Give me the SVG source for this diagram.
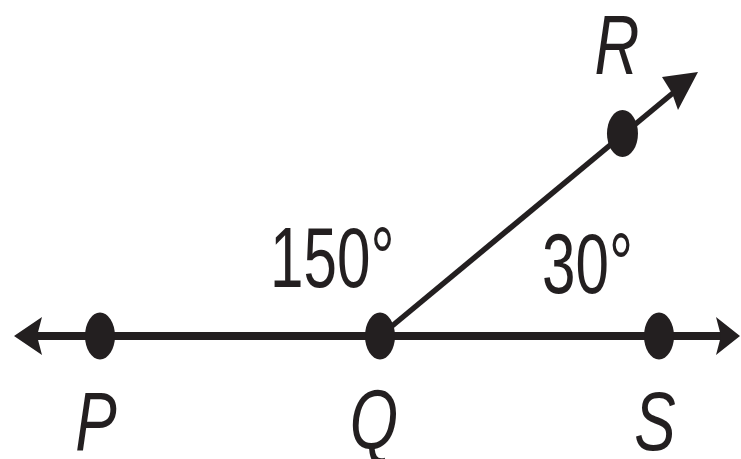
<svg xmlns="http://www.w3.org/2000/svg" width="741" height="459" viewBox="0 0 741 459">
<style>
.dot{fill:#231f20}
.ln{stroke:#231f20;fill:none}
.ah{fill:#231f20}
.lbl{font-family:"Liberation Sans",Arial,sans-serif;font-style:italic;font-size:84px;fill:#231f20;text-anchor:middle}
.deg{font-family:"Liberation Sans",Arial,sans-serif;font-size:86px;fill:#231f20}
</style>
<rect width="741" height="459" fill="#ffffff"/>
<g id="connectors">
  <line class="ln" x1="30" y1="336" x2="725" y2="336" stroke-width="8"/>
  <path class="ah" d="M14,336 L42,317 L37,336 L42,355 Z"/>
  <path class="ah" d="M740,336 L716,317 L721,336 L716,355 Z"/>
  <line class="ln" x1="380" y1="336" x2="685" y2="83" stroke-width="5.5"/>
  <path class="ah" d="M698,72 L662,77 L672,93 L678,110 Z"/>
</g>
<g id="P">
  <ellipse class="dot" cx="100" cy="336" rx="15" ry="23.5"/>
  <text class="lbl" transform="translate(96,450) scale(0.74,1)">P</text>
</g>
<g id="Q">
  <ellipse class="dot" cx="380" cy="336" rx="15" ry="23.5"/>
  <text class="lbl" transform="translate(374,448) scale(0.74,1)">Q</text>
</g>
<g id="S">
  <ellipse class="dot" cx="659" cy="336" rx="15" ry="23.5"/>
  <text class="lbl" transform="translate(655,450) scale(0.74,1)">S</text>
</g>
<g id="R">
  <ellipse class="dot" cx="622.5" cy="133.5" rx="15.5" ry="23.5"/>
  <text class="lbl" transform="translate(617,74) scale(0.74,1)">R</text>
</g>
<g id="angles">
  <text class="deg" transform="translate(270,287) scale(0.7,1)">150°</text>
  <text class="deg" transform="translate(542,293) scale(0.7,1)">30°</text>
</g>
</svg>
